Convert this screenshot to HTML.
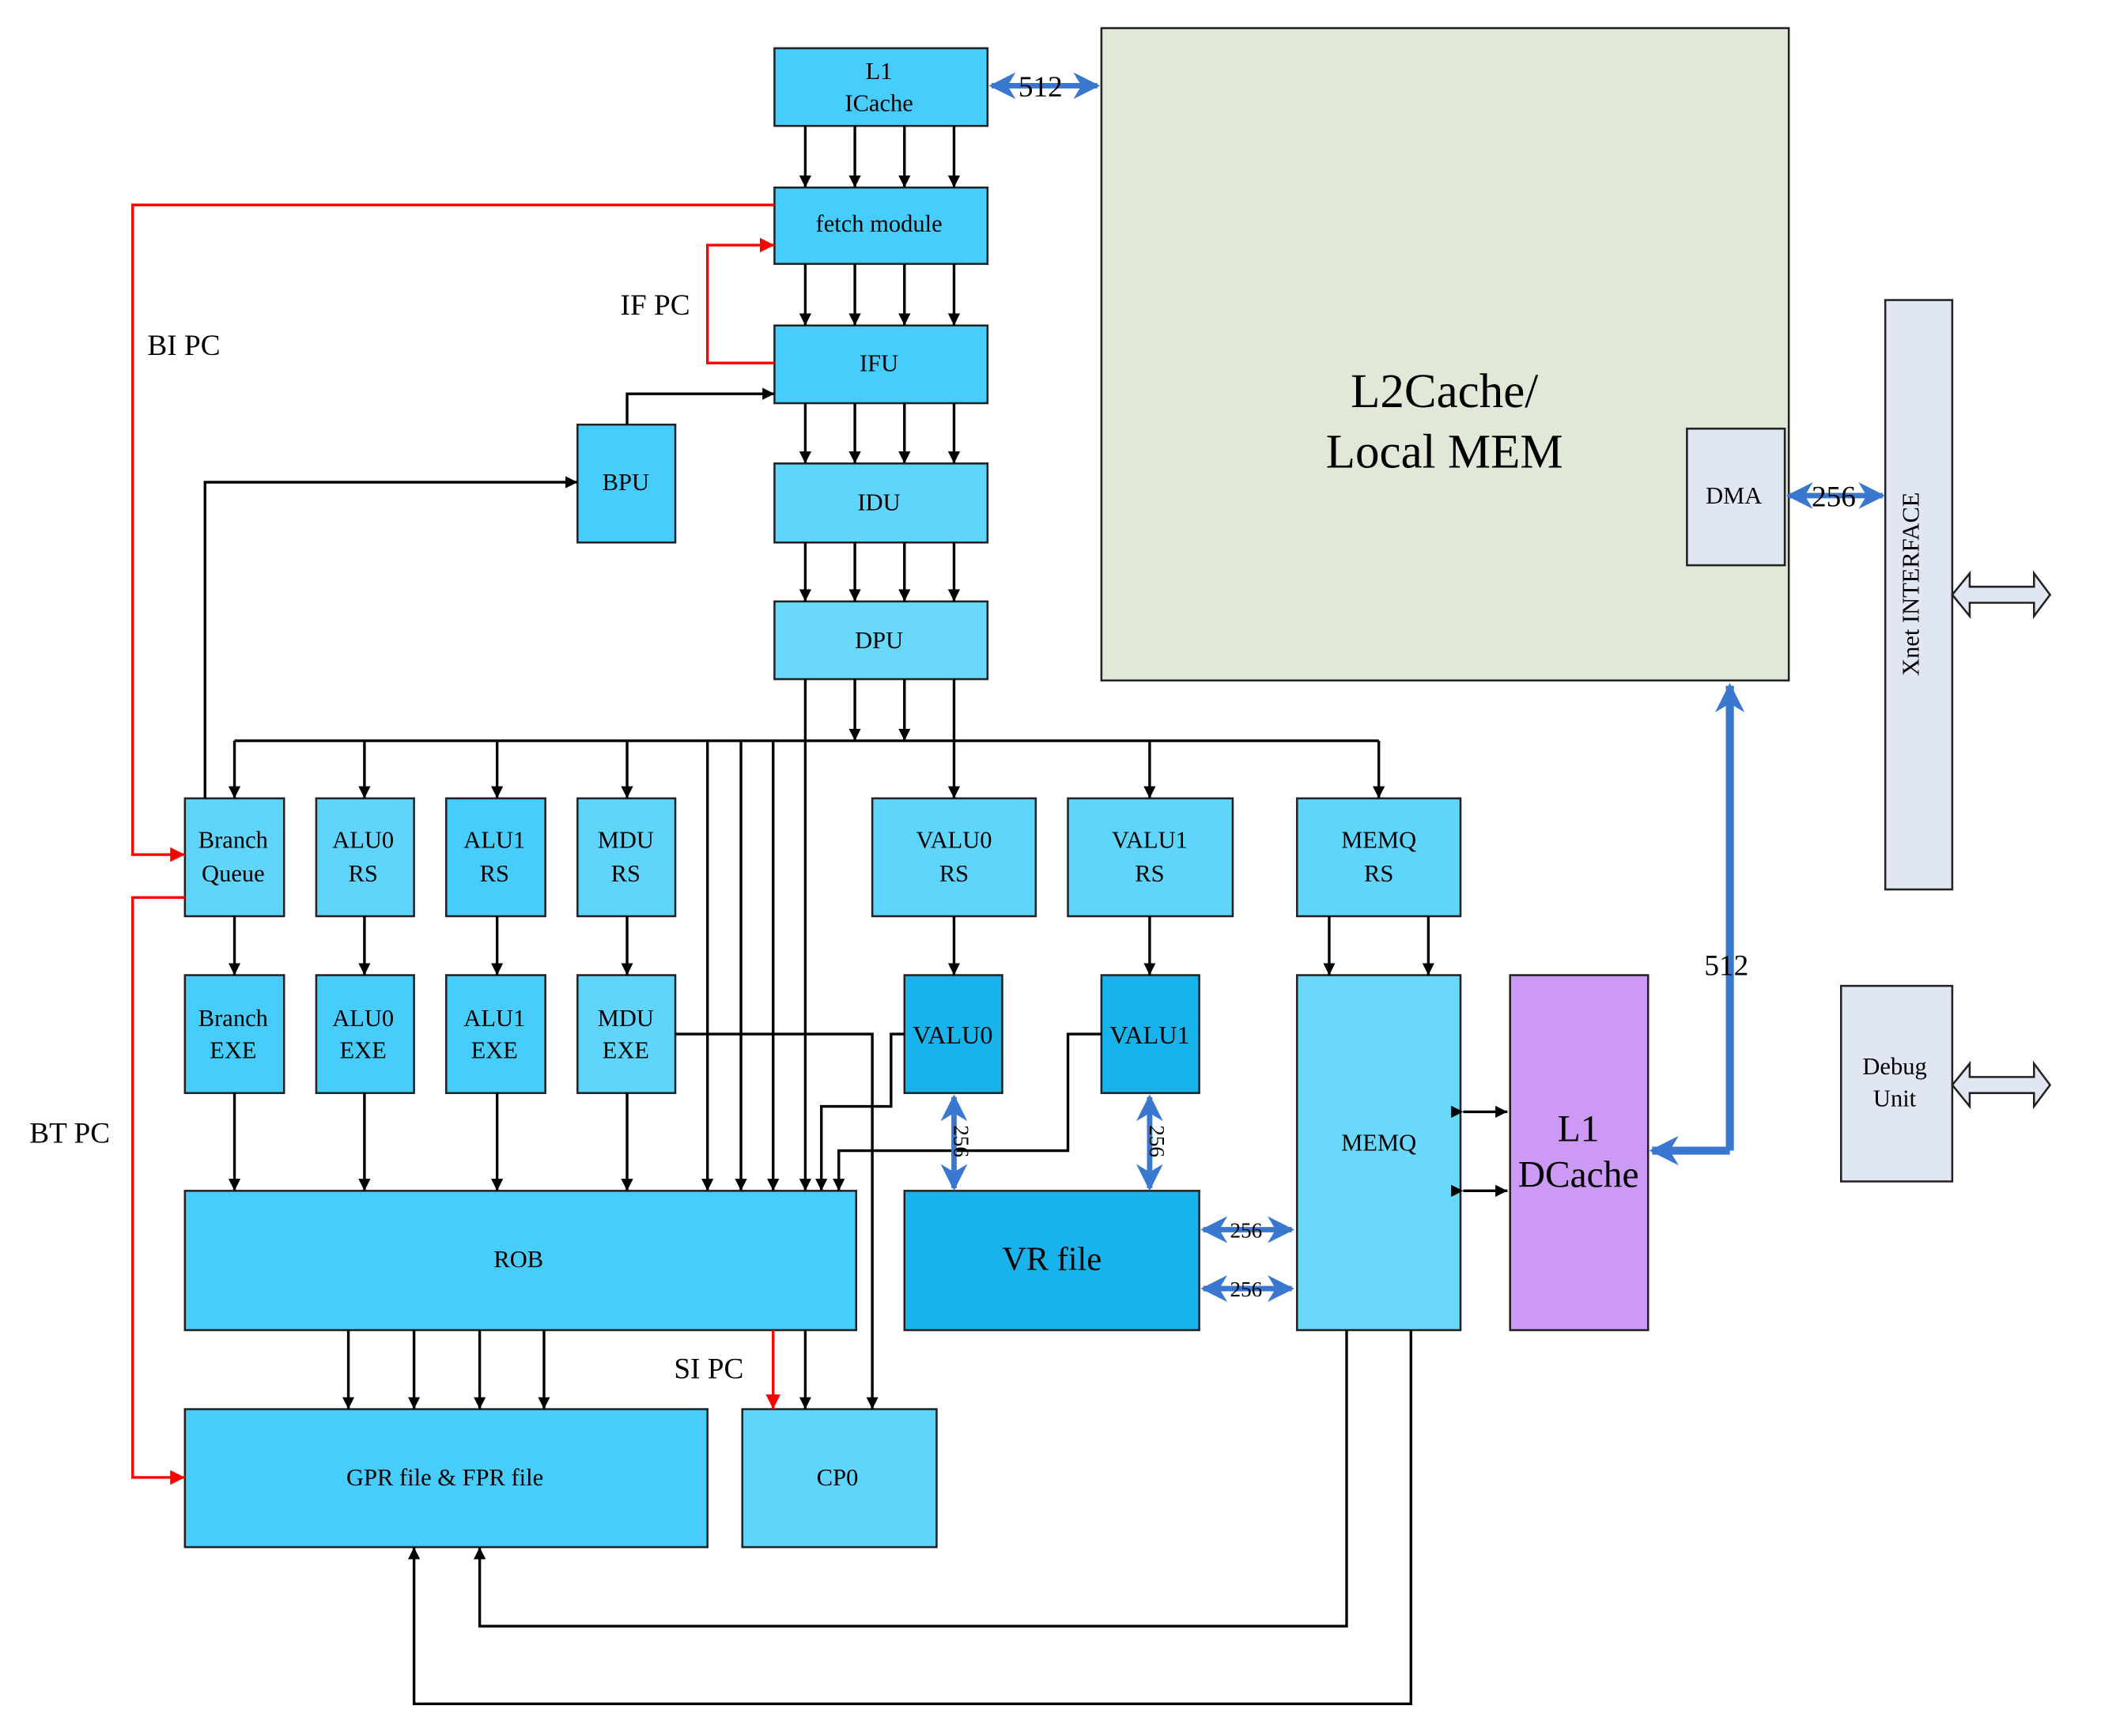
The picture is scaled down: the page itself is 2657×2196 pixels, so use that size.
<!DOCTYPE html>
<html><head><meta charset="utf-8"><style>html,body{margin:0;padding:0;background:#fff}svg{display:block}</style></head>
<body>
<svg width="2657" height="2196" viewBox="0 0 1568 1296" preserveAspectRatio="none" xmlns="http://www.w3.org/2000/svg" font-family="Liberation Serif, serif">
<defs>
<marker id="a" viewBox="0 0 10 10" refX="10" refY="5" markerWidth="9" markerHeight="11" orient="auto" markerUnits="userSpaceOnUse"><path d="M0,0 L10,5 L0,10 z" fill="#000"/></marker>
<marker id="r" viewBox="0 0 10 10" refX="10" refY="5" markerWidth="11" markerHeight="11" orient="auto" markerUnits="userSpaceOnUse"><path d="M0,0 L10,5 L0,10 z" fill="#f00"/></marker>
<marker id="b" viewBox="0 0 10 10" refX="9" refY="5" markerWidth="20" markerHeight="20" orient="auto-start-reverse" markerUnits="userSpaceOnUse"><path d="M0,0 L10,5 L0,10 L3,5 z" fill="#3a78d0"/></marker>
<marker id="bb" viewBox="0 0 10 10" refX="9" refY="5" markerWidth="22" markerHeight="22" orient="auto" markerUnits="userSpaceOnUse"><path d="M0,0 L10,5 L0,10 L3,5 z" fill="#3a78d0"/></marker>
</defs>
<g stroke="#222" stroke-width="1.5">
<rect x="822" y="21" width="513" height="487" fill="#e0e8d8"/>
<rect x="1259" y="320" width="73" height="102" fill="#e0e6f2"/>
<rect x="1407" y="224" width="50" height="440" fill="#e0e6f2"/>
<rect x="1374" y="736" width="83" height="146" fill="#e0e6f2"/>
<rect x="578" y="36" width="159" height="58" fill="#47cdfb"/>
<rect x="578" y="140" width="159" height="57" fill="#47cdfb"/>
<rect x="578" y="243" width="159" height="58" fill="#47cdfb"/>
<rect x="578" y="346" width="159" height="59" fill="#5fd5fb"/>
<rect x="578" y="449" width="159" height="58" fill="#6ad8fb"/>
<rect x="431" y="317" width="73" height="88" fill="#47cdfb"/>
<rect x="138" y="596" width="74" height="88" fill="#5fd5fb"/>
<rect x="236" y="596" width="73" height="88" fill="#5fd5fb"/>
<rect x="333" y="596" width="74" height="88" fill="#47cdfb"/>
<rect x="431" y="596" width="73" height="88" fill="#5fd5fb"/>
<rect x="651" y="596" width="122" height="88" fill="#5fd5fb"/>
<rect x="797" y="596" width="123" height="88" fill="#5fd5fb"/>
<rect x="968" y="596" width="122" height="88" fill="#5fd5fb"/>
<rect x="138" y="728" width="74" height="88" fill="#47cdfb"/>
<rect x="236" y="728" width="73" height="88" fill="#47cdfb"/>
<rect x="333" y="728" width="74" height="88" fill="#47cdfb"/>
<rect x="431" y="728" width="73" height="88" fill="#5fd5fb"/>
<rect x="675" y="728" width="73" height="88" fill="#17b3ea"/>
<rect x="822" y="728" width="73" height="88" fill="#17b3ea"/>
<rect x="968" y="728" width="122" height="265" fill="#6ad8fb"/>
<rect x="1127" y="728" width="103" height="265" fill="#cc99f5"/>
<rect x="138" y="889" width="501" height="104" fill="#47cdfb"/>
<rect x="675" y="889" width="220" height="104" fill="#17b3ea"/>
<rect x="138" y="1052" width="390" height="103" fill="#47cdfb"/>
<rect x="554" y="1052" width="145" height="103" fill="#5fd5fb"/>
</g>
<g stroke="#000" stroke-width="2" fill="none" marker-end="url(#a)">
<path d="M601 94V140"/><path d="M638 94V140"/><path d="M675 94V140"/><path d="M712 94V140"/>
<path d="M601 197V243"/><path d="M638 197V243"/><path d="M675 197V243"/><path d="M712 197V243"/>
<path d="M601 301V346"/><path d="M638 301V346"/><path d="M675 301V346"/><path d="M712 301V346"/>
<path d="M601 405V449"/><path d="M638 405V449"/><path d="M675 405V449"/><path d="M712 405V449"/>
<path d="M638 507V553"/><path d="M675 507V553"/>
<path d="M712 507V596"/>
<path d="M175 553V596"/><path d="M272 553V596"/><path d="M371 553V596"/><path d="M468 553V596"/><path d="M858 553V596"/><path d="M1029 553V596"/>
<path d="M528 553V889"/><path d="M553 553V889"/><path d="M577 553V889"/><path d="M601 507V889"/>
<path d="M175 684V728"/><path d="M272 684V728"/><path d="M371 684V728"/><path d="M468 684V728"/><path d="M712 684V728"/><path d="M858 684V728"/><path d="M992 684V728"/><path d="M1066 684V728"/>
<path d="M175 816V889"/><path d="M272 816V889"/><path d="M371 816V889"/><path d="M468 816V889"/>
<path d="M675 772H665V826H613V889"/>
<path d="M822 772H797V859H626V889"/>
<path d="M504 772H651V1052"/>
<path d="M260 993V1052"/><path d="M309 993V1052"/><path d="M358 993V1052"/><path d="M406 993V1052"/><path d="M601 993V1052"/>
<path d="M153 596V360H431"/>
<path d="M468 317V294H578"/>
<path d="M1005 993V1214H358V1155"/>
<path d="M1053 993V1272H309V1155"/>
</g>
<path d="M175 553H1029" stroke="#000" stroke-width="2"/>
<g stroke="#000" stroke-width="2" marker-start="url(#a)" marker-end="url(#a)"><path d="M1092 830H1125"/><path d="M1092 889H1125"/></g>
<g stroke="#f00" stroke-width="2" fill="none" marker-end="url(#r)">
<path d="M578 153H99V638H138"/>
<path d="M578 271H528V183H578"/>
<path d="M138 670H99V1103H138"/>
<path d="M577 993V1052"/>
</g>
<g stroke="#3a78d0" stroke-width="4" fill="none">
<path d="M740 64H819" marker-start="url(#b)" marker-end="url(#b)"/>
<path d="M1335 370H1405" marker-start="url(#b)" marker-end="url(#b)"/>
<path d="M712 819V887" marker-start="url(#b)" marker-end="url(#b)"/>
<path d="M858 819V887" marker-start="url(#b)" marker-end="url(#b)"/>
<path d="M898 918H964" marker-start="url(#b)" marker-end="url(#b)"/>
<path d="M898 962H964" marker-start="url(#b)" marker-end="url(#b)"/>
<path d="M1291 859V512" stroke-width="6" marker-end="url(#bb)"/>
<path d="M1291 859H1233" stroke-width="6" marker-end="url(#bb)"/>
</g>
<g fill="#e0e6f2" stroke="#222" stroke-width="1.5">
<path d="M1457 444 L1470 428 V438 H1518 V428 L1530 444 L1518 460 V450 H1470 V460 Z"/>
<path d="M1457 810 L1470 794 V804 H1518 V794 L1530 810 L1518 826 V816 H1470 V826 Z"/>
</g>
<g font-size="18" text-anchor="middle" fill="#000">
<text x="656" y="59">L1</text><text x="656" y="83">ICache</text>
<text x="656" y="173">fetch module</text>
<text x="656" y="277">IFU</text>
<text x="656" y="381">IDU</text>
<text x="656" y="484">DPU</text>
<text x="467" y="366">BPU</text>
<text x="174" y="633">Branch</text><text x="174" y="658">Queue</text>
<text x="271" y="633">ALU0</text><text x="271" y="658">RS</text>
<text x="369" y="633">ALU1</text><text x="369" y="658">RS</text>
<text x="467" y="633">MDU</text><text x="467" y="658">RS</text>
<text x="712" y="633">VALU0</text><text x="712" y="658">RS</text>
<text x="858" y="633">VALU1</text><text x="858" y="658">RS</text>
<text x="1029" y="633">MEMQ</text><text x="1029" y="658">RS</text>
<text x="174" y="766">Branch</text><text x="174" y="790">EXE</text>
<text x="271" y="766">ALU0</text><text x="271" y="790">EXE</text>
<text x="369" y="766">ALU1</text><text x="369" y="790">EXE</text>
<text x="467" y="766">MDU</text><text x="467" y="790">EXE</text>
<text x="711" y="779" font-size="19">VALU0</text>
<text x="858" y="779" font-size="19">VALU1</text>
<text x="1029" y="859">MEMQ</text>
<text x="387" y="946">ROB</text>
<text x="332" y="1109">GPR file &amp; FPR file</text>
<text x="625" y="1109">CP0</text>
<text x="1294" y="376">DMA</text>
<text x="1414" y="802">Debug</text><text x="1414" y="826">Unit</text>
<text x="1440" y="444" transform="rotate(-90 1432 444)">Xnet INTERFACE</text>
<text x="930" y="924" font-size="16">256</text>
<text x="930" y="968" font-size="16">256</text>
<text x="712" y="852" font-size="16" transform="rotate(90 712 852)">256</text>
<text x="858" y="852" font-size="16" transform="rotate(90 858 852)">256</text>
</g>
<g font-size="22" fill="#000">
<text x="760" y="72">512</text>
<text x="1352" y="378">256</text>
<text x="1272" y="728">512</text>
<text x="110" y="265">BI PC</text>
<text x="463" y="235">IF PC</text>
<text x="22" y="853">BT PC</text>
<text x="503" y="1029">SI PC</text>
</g>
<g text-anchor="middle" fill="#000">
<text x="1078" y="304" font-size="36">L2Cache/</text>
<text x="1078" y="349" font-size="36">Local MEM</text>
<text x="785" y="948" font-size="25">VR file</text>
<text x="1178" y="852" font-size="28">L1</text>
<text x="1178" y="886" font-size="28">DCache</text>
</g>
</svg>
</body></html>
